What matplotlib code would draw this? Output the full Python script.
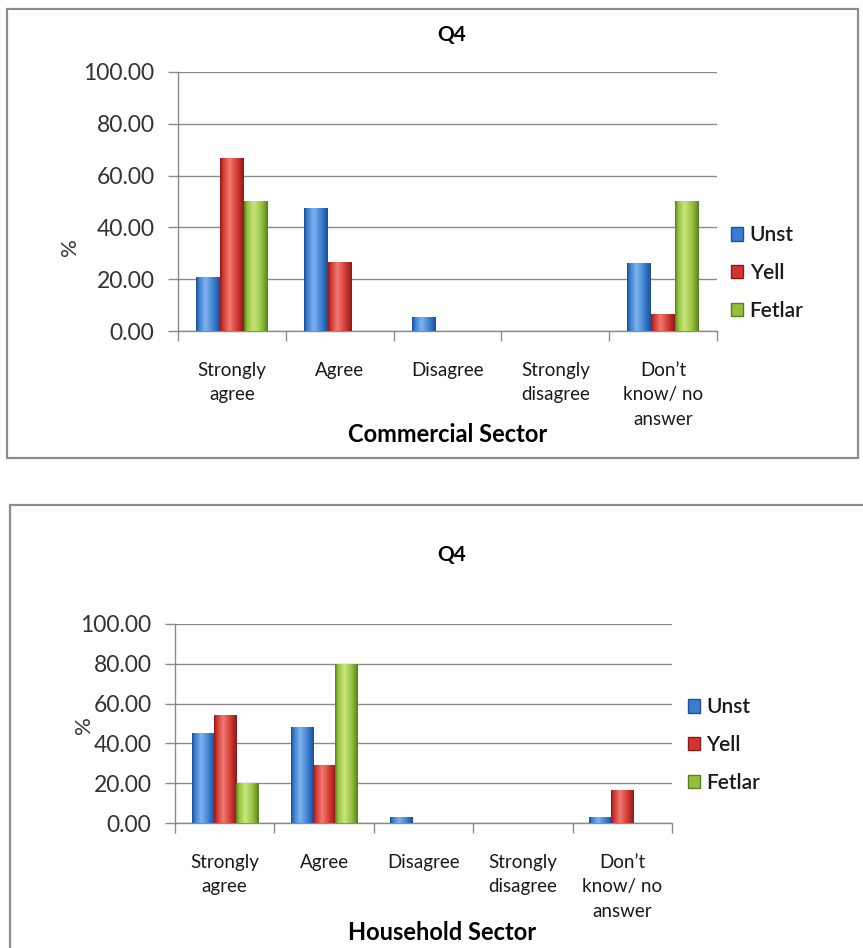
import numpy as np
import matplotlib.pyplot as plt
from matplotlib.colors import LinearSegmentedColormap
from matplotlib.patches import Rectangle, Patch

plt.rcParams['font.family'] = ['Lato', 'DejaVu Sans']

categories = ["Strongly\nagree", "Agree", "Disagree", "Strongly\ndisagree",
              "Don\u2019t\nknow/ no\nanswer"]
series = ["Unst", "Yell", "Fetlar"]

commercial_unst = [21.05, 47.37, 5.26, 0, 26.32]
commercial_yell = [66.67, 26.67, 0, 0, 6.67]
commercial_fetlar = [50, 0, 0, 0, 50]

household_unst = [45.16, 48.39, 3.23, 0, 3.23]
household_yell = [54.17, 29.17, 0, 0, 16.67]
household_fetlar = [20, 80, 0, 0, 0]

y_ticks = [0, 20, 40, 60, 80, 100]

# dark edge / mid / highlight for the bevelled look
shades = {
    "Unst": ("#1d4e96", "#3b7dd0", "#7fb3ee"),
    "Yell": ("#8c1c1a", "#d0352f", "#ef7a72"),
    "Fetlar": ("#587f1f", "#92c03c", "#c9e57e"),
}
GRAY = "#8a8a8a"
TXT = "#1a1a1a"
grad = np.linspace(0, 1, 64).reshape(1, -1)


def draw_panel(ax, values):
    x = np.arange(len(categories))
    w = 0.222
    for i, name in enumerate(series):
        dark, mid, light = shades[name]
        cmap = LinearSegmentedColormap.from_list(
            name, [(0, dark), (0.12, mid), (0.4, light), (0.75, mid), (1, dark)])
        bars = ax.bar(x + (i - 1) * w, values[i], w, color=mid,
                      edgecolor="none", zorder=3)
        for b in bars:
            if b.get_height() <= 0:
                continue
            x0, y0 = b.get_x(), b.get_y()
            im = ax.imshow(grad, cmap=cmap, aspect="auto", zorder=3.5,
                           extent=(x0, x0 + b.get_width(), y0, y0 + b.get_height()))
            im.set_clip_path(b)
    ax.set_xlim(-0.5, len(categories) - 0.5)
    ax.set_ylim(0, 100)
    ax.set_yticks(y_ticks)
    ax.set_yticklabels([f"{v:.2f}" for v in y_ticks], fontsize=16.5, color="#333333")
    ax.set_xticks(x)
    ax.set_xticklabels(categories, fontsize=13.5, linespacing=1.55, color=TXT,
                       va="top")
    ax.set_xticks(np.arange(-0.5, len(categories), 1), minor=True)
    ax.tick_params(axis="x", which="major", length=0, pad=22)
    ax.tick_params(axis="x", which="minor", length=7, color=GRAY, width=1)
    ax.tick_params(axis="y", length=7, color=GRAY, width=1, pad=10)
    ax.yaxis.grid(True, color=GRAY, linewidth=1)
    ax.set_axisbelow(True)
    for s in ("top", "right"):
        ax.spines[s].set_visible(False)
    for s in ("left", "bottom"):
        ax.spines[s].set_color(GRAY)
        ax.spines[s].set_linewidth(1)


fig = plt.figure(figsize=(8.63, 9.48), dpi=100)

# chart frames
fig.patches.append(Rectangle((0.0081, 0.5169), 0.986, 0.4736, transform=fig.transFigure,
                             fill=False, edgecolor="#8c8c8c", linewidth=1.6))
fig.patches.append(Rectangle((0.0116, -0.05), 1.02, 0.5173, transform=fig.transFigure,
                             fill=False, edgecolor="#8c8c8c", linewidth=1.6, clip_on=False))

ax1 = fig.add_axes([0.2063, 0.6508, 0.6245, 0.2733])
draw_panel(ax1, [commercial_unst, commercial_yell, commercial_fetlar])
ax2 = fig.add_axes([0.2028, 0.1318, 0.5759, 0.2100])
draw_panel(ax2, [household_unst, household_yell, household_fetlar])

fig.text(0.5237, 0.963, "Q4", ha="center", va="center", fontsize=15, fontweight="bold")
fig.text(0.5237, 0.4146, "Q4", ha="center", va="center", fontsize=15, fontweight="bold")
fig.text(0.519, 1 - 435 / 948, "Commercial Sector", ha="center", va="center",
         fontsize=17, fontweight="bold")
fig.text(0.512, 1 - 932 / 948, "Household Sector", ha="center", va="center",
         fontsize=17, fontweight="bold")
fig.text(70 / 863, 1 - 247 / 948, "%", ha="center", va="center", rotation=90,
         fontsize=16, color="#333333")
fig.text(84 / 863, 1 - 725 / 948, "%", ha="center", va="center", rotation=90,
         fontsize=16, color="#333333")

handles = [Patch(facecolor=shades[n][1], edgecolor=shades[n][0], label=n) for n in series]
for ax, anchor in ((ax1, (0.847, 1 - 273 / 948)), (ax2, (0.797, 1 - 745 / 948))):
    leg = ax.legend(handles=handles, loc="center left", bbox_to_anchor=anchor,
                    bbox_transform=fig.transFigure, frameon=False,
                    prop={"size": 15, "weight": "semibold"},
                    handlelength=0.6, handleheight=0.6, handletextpad=0.3,
                    labelspacing=0.85, borderpad=0, borderaxespad=0)
    for t in leg.get_texts():
        t.set_color(TXT)

fig.savefig("out.png", dpi=100)
